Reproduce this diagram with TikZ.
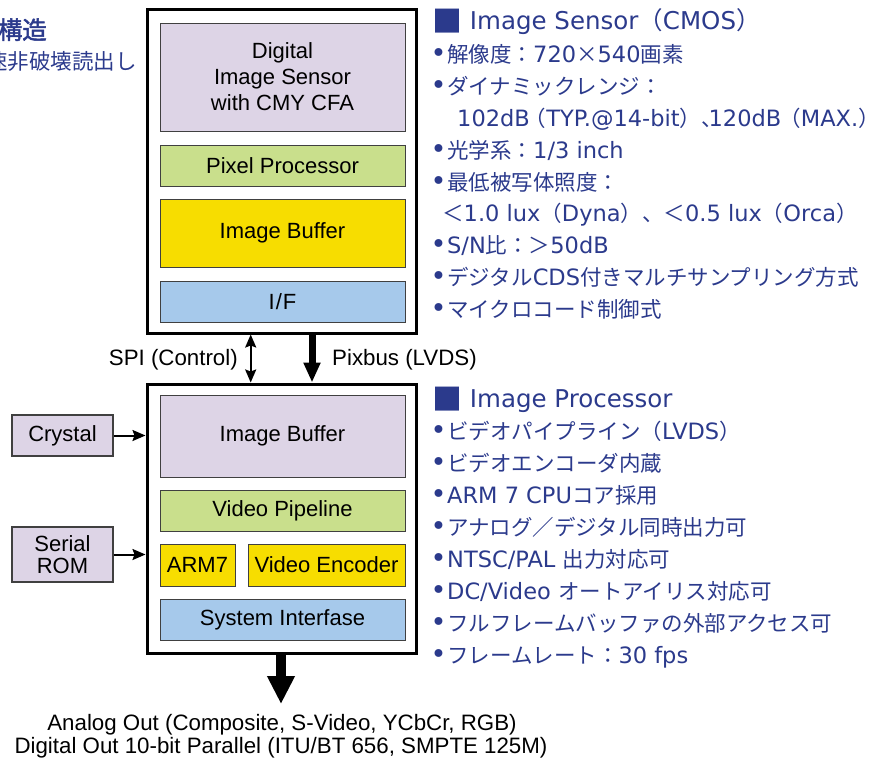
\documentclass[tikz,border=0pt]{standalone}
\usepackage{fontspec}
\setmainfont{Liberation Sans}
\newfontfamily\jp{Noto Sans CJK JP}
\newfontfamily\jpb[FakeBold=2]{Noto Sans CJK JP}
\newfontfamily\latf{DejaVu Sans}
\usetikzlibrary{arrows.meta}
\definecolor{jblue}{HTML}{2B3A8C}
\definecolor{lav}{HTML}{DDD4E6}
\definecolor{grn}{HTML}{C9DF8C}
\definecolor{yel}{HTML}{F7DD00}
\definecolor{lblue}{HTML}{A6C9EB}
\newcommand\lat[1]{{\latf\fontsize{22.5}{26}\selectfont #1}}
\newcommand\latH[1]{{\latf\fontsize{24.5}{28}\selectfont #1}}
\newcommand\sq{\raisebox{-3.5pt}{\fontsize{30}{30}\selectfont ■}}
\newcommand\bul{{\latf\fontsize{27}{26}\selectfont\makebox[15pt][l]{\kern-1.5pt•}}}
\begin{document}
\begin{tikzpicture}[x=1pt,y=-1pt,
  outer/.style={draw=black, line width=3pt, fill=white, minimum width=269pt, inner sep=0pt},
  inner/.style={draw=black!75, line width=1pt, minimum width=245pt, inner sep=0pt, align=center,
     font=\fontsize{22}{26}\selectfont},
  sidebox/.style={draw=black!75, line width=1.2pt, fill=lav, minimum width=101pt, inner sep=0pt, align=center,
     font=\fontsize{22}{22}\selectfont},
  lbl/.style={inner sep=0pt, font=\fontsize{22.3}{26}\selectfont},
  rt/.style={anchor=base west, inner sep=0pt, text=jblue, font=\jp\fontsize{21.5}{26}\selectfont},
  rth/.style={anchor=base west, inner sep=0pt, text=jblue, font=\jp\fontsize{24.5}{28}\selectfont},
  thin/.style={line width=2pt, -{Stealth[length=13pt,width=11pt,inset=2pt]}},
  dbl/.style={line width=2pt, {Stealth[length=13pt,width=11pt,inset=2pt]}-{Stealth[length=13pt,width=11pt,inset=2pt]}}
]
\useasboundingbox (0,0) rectangle (879,758);
\clip (0,0) rectangle (879,758);

% top-left partial texts (cut by the picture's edge)
\node[anchor=base east, inner sep=0pt, text=jblue, font=\jpb\fontsize{24.5}{28}\selectfont] (tl1) at (47,39) {構造};
\node[anchor=base east, inner sep=0pt, text=jblue, font=\jp\fontsize{21.5}{26}\selectfont] (tl2) at (137,69) {速非破壊読出し};

% image sensor block
\node[outer, minimum height=324pt] (ts) at (281.5,171) {};
\node[inner, fill=lav, minimum height=108pt] (dis) at (282.5,77) {Digital\\Image Sensor\\with CMY CFA};
\node[inner, fill=grn, minimum height=41pt] (pp) at (282.5,165.5) {Pixel Processor};
\node[inner, fill=yel, minimum height=68pt] (ib1) at (282.5,233) {Image Buffer};
\node[inner, fill=lblue, minimum height=41pt] (if) at (282.5,301.5) {I\kern1pt/\kern1pt F};

% image processor block
\node[outer, minimum height=269pt] (bs) at (281.5,518.5) {};
\node[inner, fill=lav, minimum height=82pt] (ib2) at (282.5,436) {Image Buffer};
\node[inner, fill=grn, minimum height=41pt] (vp) at (282.5,510.5) {Video Pipeline};
\node[inner, fill=yel, minimum height=42pt, minimum width=75pt] (arm) at (197.5,565) {ARM7};
\node[inner, fill=yel, minimum height=42pt, minimum width=157pt] (ve) at (326.5,565) {Video Encoder};
\node[inner, fill=lblue, minimum height=41pt] (si) at (282.5,619.5) {System Interfase};

% side boxes
\node[sidebox, minimum height=41pt] (cry) at (62.5,435.5) {Crystal};
\node[sidebox, minimum height=55pt] (rom) at (62.5,554.5) {Serial\\ROM};
\draw[thin] (cry.east) -- (cry.east -| bs.west);
\draw[thin] (rom.east) -- (rom.east -| bs.west);

% links between blocks
\coordinate (spix) at (250.7,0);
\coordinate (pixx) at (312,0);
\draw[dbl] (ts.south -| spix) -- (bs.north -| spix);
\draw[line width=7pt, -{Triangle[length=20pt,width=16pt]}] (ts.south -| pixx) -- (bs.north -| pixx);
\node[lbl, anchor=base east] (spil) at (238,365) {SPI (Control)};
\node[lbl, anchor=base west] (pixl) at (332,365) {Pixbus (LVDS)};

% output
\coordinate (outtip) at (281,704);
\draw[line width=10pt, -{Triangle[length=28pt,width=26pt]}] (bs.south -| outtip) -- (outtip);
\node[lbl, anchor=base] (out1) at (282,730) {Analog Out (Composite, S-Video, YCbCr, RGB)};
\node[lbl, anchor=base] (out2) at (281,753) {Digital Out 10-bit Parallel (ITU/BT 656, SMPTE 125M)};

% right text: image sensor
\node[rth] (h1) at (432,29) {\sq\latH{ Image Sensor}（\latH{CMOS}）};
\node[rt] (s1) at (432,62) {\bul 解像度：\lat{720}×\lat{540}画素};
\node[rt] (s2) at (432,94) {\bul ダイナミックレンジ：};
\node[rt] (s3) at (457,126) {\lat{102dB}\kern-5pt（\lat{TYP.@14-bit}）、\kern-14pt\lat{120dB}\kern-2pt（\lat{MAX.}）};
\node[rt] (s4) at (432,158) {\bul 光学系：\lat{1/3 inch}};
\node[rt] (s5) at (432,190) {\bul 最低被写体照度：};
\node[rt] (s6) at (442,221) {＜\lat{1.0 lux}（\lat{Dyna}）、＜\lat{0.5 lux}（\lat{Orca}）};
\node[rt] (s7) at (432,253) {\bul\lat{S/N}比：＞\lat{50dB}};
\node[rt] (s8) at (432,285) {\bul デジタル\lat{CDS}付きマルチサンプリング方式};
\node[rt] (s9) at (432,317) {\bul マイクロコード制御式};

% right text: image processor
\node[rth] (h2) at (432,407) {\sq\latH{ Image Processor}};
\node[rt] (p1) at (432,439) {\bul ビデオパイプライン（\lat{LVDS}）};
\node[rt] (p2) at (432,471) {\bul ビデオエンコーダ内蔵};
\node[rt] (p3) at (432,503) {\bul\lat{ARM 7 CPU}コア採用};
\node[rt] (p4) at (432,535) {\bul アナログ／デジタル同時出力可};
\node[rt] (p5) at (432,567) {\bul\lat{NTSC/PAL }出力対応可};
\node[rt] (p6) at (432,599) {\bul\lat{DC/Video }オートアイリス対応可};
\node[rt] (p7) at (432,631) {\bul フルフレームバッファの外部アクセス可};
\node[rt] (p8) at (432,663) {\bul フレームレート：\lat{30 fps}};
\end{tikzpicture}
\end{document}
